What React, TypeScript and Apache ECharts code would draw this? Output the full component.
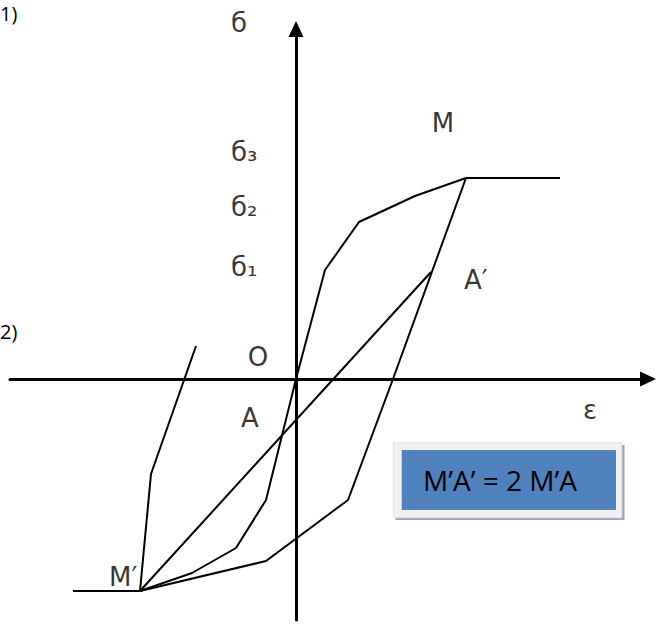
import React, { useEffect, useRef } from "react";
import * as echarts from "echarts";

// Coordinates in arbitrary strain/stress units (origin at O)
const ascendingBranch: [number, number][] = [
  [-15.6, -21.2], [-10.4, -19.4], [-6.0, -16.9], [-3.0, -12.1], [0, 0],
  [2.9, 10.9], [6.3, 15.7], [11.9, 18.3], [17.0, 20.1],
];
const upperPlateau: [number, number][] = [[17.0, 20.1], [26.4, 20.1]];
const descendingBranch: [number, number][] = [
  [17.0, 20.1], [9.7, 0], [5.2, -12.1], [-3.0, -18.2], [-15.6, -21.2],
];
const lowerPlateau: [number, number][] = [[-22.3, -21.2], [-15.6, -21.2]];
const chordMA: [number, number][] = [[-15.6, -21.2], [13.5, 10.7]];
const leftBranch: [number, number][] = [[-15.6, -21.2], [-14.5, -9.5], [-10.0, 3.3]];

const labelTexts = ["б", "б₃", "б₂", "б₁", "M", "A′", "O", "A", "ε", "M′"];
const labelX = [-5.7, -6.5, -6.5, -6.5, 14.7, 16.8, -3.8, -4.6, 29.4, -18.7];
const labelY = [35.6, 22.7, 17.2, 11.2, 25.6, 9.9, 2.2, -3.9, -3.1, -19.8];
const labelAlign = ["center", "left", "left", "left", "center", "left", "center", "center", "center", "left"];

const X_MIN = -28.6, X_MAX = 35.2, Y_MIN = -24.1, Y_MAX = 35.0;

const lineSeries = (data: [number, number][]) => ({
  type: "line",
  data,
  showSymbol: false,
  symbol: "none",
  silent: true,
  clip: false,
  lineStyle: { color: "#000", width: 2 },
  z: 3,
});

export default function App() {
  const ref = useRef<HTMLDivElement>(null);
  useEffect(() => {
    if (!ref.current) return;
    const chart = echarts.init(ref.current, undefined, { renderer: "svg" });
    const axisCommon = {
      type: "value",
      axisLine: {
        show: true,
        onZero: true,
        symbol: ["none", "triangle"],
        symbolSize: [15, 16],
        lineStyle: { color: "#000", width: 3 },
      },
      axisTick: { show: false },
      axisLabel: { show: false },
      splitLine: { show: false },
    };
    chart.setOption({
      animation: false,
      backgroundColor: "#fff",
      grid: { left: 10, right: 13, top: 29, bottom: 4 },
      xAxis: { ...axisCommon, min: X_MIN, max: X_MAX },
      yAxis: { ...axisCommon, min: Y_MIN, max: Y_MAX },
      series: [
        lineSeries(ascendingBranch),
        lineSeries(upperPlateau),
        lineSeries(descendingBranch),
        lineSeries(lowerPlateau),
        lineSeries(chordMA),
        lineSeries(leftBranch),
        {
          type: "scatter",
          symbolSize: 0,
          silent: true,
          clip: false,
          data: labelTexts.map((t, i) => ({
            value: [labelX[i], labelY[i]],
            name: t,
            label: {
              show: true,
              position: "inside",
              formatter: t,
              align: labelAlign[i],
              verticalAlign: "middle",
              fontFamily: "DejaVu Sans",
              fontSize: 26,
              color: "#000",
            },
          })),
          z: 5,
        },
      ],
      graphic: [
        { type: "rect", shape: { x: 395.5, y: 445, width: 229, height: 75 }, style: { fill: "#9aa6bc" }, z: 10 },
        { type: "rect", shape: { x: 393.3, y: 442.7, width: 228.5, height: 75 }, style: { fill: "#f1f1f1", stroke: "#e2e2e2", lineWidth: 1 }, z: 11 },
        { type: "rect", shape: { x: 401.7, y: 450, width: 214.3, height: 60 }, style: { fill: "#4f81bd" }, z: 12 },
        {
          type: "text",
          z: 13,
          style: {
            text: "M’A’ = 2 M’A",
            x: 500,
            y: 480,
            align: "center",
            verticalAlign: "middle",
            font: '28px "Open Sans"',
            fill: "#000",
          },
        },
        { type: "text", z: 13, style: { text: "1)", x: 0, y: 13, verticalAlign: "middle", font: '20px "Open Sans"', fill: "#000" } },
        { type: "text", z: 13, style: { text: "2)", x: 0, y: 331, verticalAlign: "middle", font: '20px "Open Sans"', fill: "#000" } },
      ],
    });
    return () => chart.dispose();
  }, []);
  return (
    <div
      ref={ref}
      style={{ position: "fixed", left: 0, top: 0, width: 661, height: 624, background: "#fff" }}
    />
  );
}
